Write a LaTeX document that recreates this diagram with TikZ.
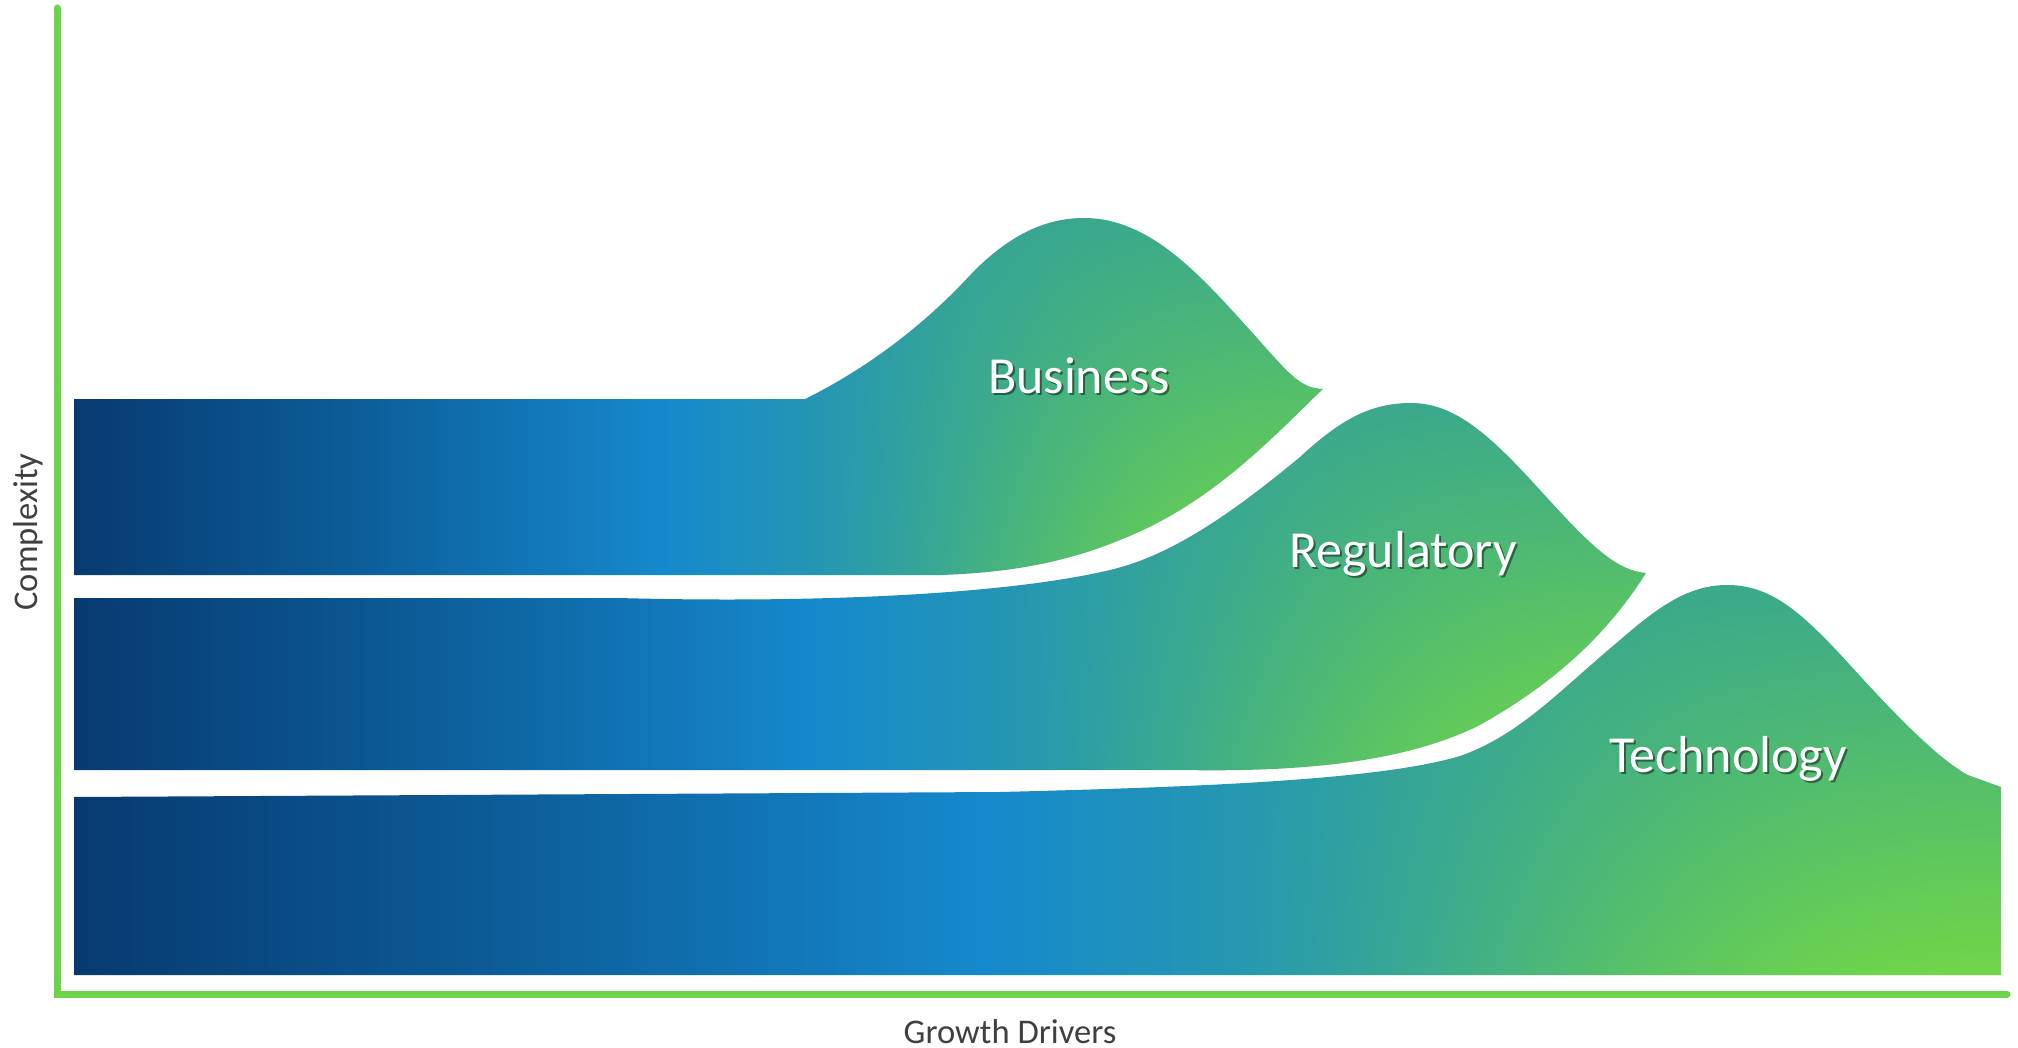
\documentclass[tikz,border=0pt]{standalone}
\usepackage{fontspec}
\setmainfont{Carlito}
\definecolor{axisgreen}{RGB}{108,212,75}
\definecolor{labelgray}{RGB}{64,64,64}
% 2D band colouring: horizontal navy-blue-teal ramp, blended on the right with a
% vertical teal (top) to bright green (bottom) ramp
\pgfdeclarefunctionalshading{bandfunc}{\pgfpoint{0bp}{0bp}}{\pgfpoint{100bp}{100bp}}{}{
  25 sub 50 div exch 25 sub 50 div
  dup 0.58 sub 0.42 div dup 0 lt {pop 0} if dup 1 gt {pop 1} if
  dup dup mul exch 2 mul 3 exch sub mul exch
  dup 0.47 lt {
    dup 0.22 lt
      {0.22 div dup 0.020 mul 0.027 add exch dup 0.134 mul 0.227 add exch 0.157 mul 0.439 add}
      {0.22 sub 0.25 div dup 0.035 mul 0.047 add exch dup 0.176 mul 0.361 add exch 0.208 mul 0.596 add}
    ifelse
  } {
    dup 0.65 lt
      {0.47 sub 0.18 div dup 0.083 mul 0.082 add exch dup 0.075 mul 0.537 add exch -0.145 mul 0.804 add}
      {dup 0.82 lt
        {0.65 sub 0.17 div dup 0.062 mul 0.165 add exch dup 0.047 mul 0.612 add exch -0.102 mul 0.659 add}
        {0.82 sub 0.18 div dup 0.067 mul 0.227 add exch dup 0.055 mul 0.659 add exch -0.086 mul 0.557 add}
      ifelse}
    ifelse
  } ifelse
  4 index 0.267 mul 0.282 add 1 index sub 4 index mul add 5 1 roll
  3 index -0.180 mul 0.839 add 1 index sub 3 index mul add 5 1 roll
  2 index -0.212 mul 0.439 add 1 index sub 2 index mul add
  3 1 roll pop pop 3 1 roll
}
\begin{document}
\begin{tikzpicture}[x=0.5pt,y=-0.5pt,
  band/.style={shading=bandfunc},
  hilllabel/.style={text=white, font=\fontsize{26}{30}\selectfont, anchor=base, inner sep=0pt},
  hillshadow/.style={text=black, text opacity=0.45, font=\fontsize{26}{30}\selectfont, anchor=base, inner sep=0pt},
  axislabel/.style={text=labelgray, font=\fontsize{17.3}{20}\selectfont, anchor=base, inner sep=0pt},
  axisline/.style={draw=axisgreen, line width=3.5pt, line cap=round}]
\useasboundingbox (0,0) rectangle (2018,1048);
% axes
\coordinate (ytop) at (57,8);
\coordinate (orig) at (57,994);
\coordinate (xend) at (2007,994);
\draw[axisline] (ytop) -- (orig) -- (xend);
% Business band
\shade[band] (74,399) -- (805,399)
  .. controls (860,372) and (920,330) .. (973,272)
  .. controls (1010,235) and (1045,218) .. (1084,218)
  .. controls (1150,218) and (1200,275) .. (1250,330)
  .. controls (1290,375) and (1300,388) .. (1323,389)
  .. controls (1270,440) and (1210,505) .. (1120,540)
  .. controls (1060,565) and (1000,573) .. (941,575)
  -- (74,575) -- cycle;
% Regulatory band
\shade[band] (74,598) -- (618,598)
  .. controls (800,603) and (1000,596) .. (1110,570)
  .. controls (1170,556) and (1230,515) .. (1300,457)
  .. controls (1340,420) and (1370,403) .. (1411,403)
  .. controls (1455,403) and (1490,435) .. (1540,490)
  .. controls (1590,545) and (1615,570) .. (1646,573)
  .. controls (1610,630) and (1560,680) .. (1480,725)
  .. controls (1400,765) and (1290,772) .. (1180,770)
  -- (74,770) -- cycle;
% Technology band
\shade[band] (74,797) -- (1000,792)
  .. controls (1200,787) and (1380,780) .. (1460,756)
  .. controls (1520,735) and (1560,690) .. (1620,640)
  .. controls (1660,605) and (1690,585) .. (1727,585)
  .. controls (1770,585) and (1800,610) .. (1850,665)
  .. controls (1900,720) and (1940,760) .. (1968,775)
  -- (2001,787) -- (2001,975) -- (74,975) -- cycle;
% labels
\node[hillshadow] at (1081,395) {Business};
\node[hilllabel] (business) at (1079,393) {Business};
\node[hillshadow] at (1405,569) {Regulatory};
\node[hilllabel] (regulatory) at (1403,567) {Regulatory};
\node[hillshadow] at (1730,774) {Technology};
\node[hilllabel] (technology) at (1728,772) {Technology};
\node[axislabel, rotate=90] (complexity) at (38,532) {Complexity};
\node[axislabel] (growth) at (1010,1043) {Growth Drivers};
\end{tikzpicture}
\end{document}
